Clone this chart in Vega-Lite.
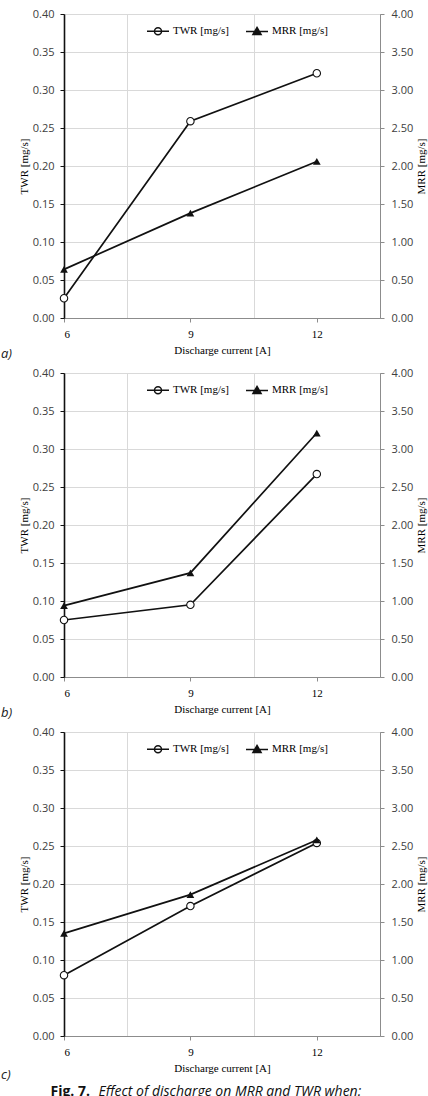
{
  "$schema": "https://vega.github.io/schema/vega-lite/v6.json",
  "background": "white",
  "padding": {"top": 7, "left": 0, "right": 0, "bottom": 0},
  "spacing": 4,
  "resolve": {"scale": {"shape": "independent", "fill": "independent"}, "legend": {"shape": "independent", "fill": "independent"}},
  "datasets": {
    "a": [
      {"I": 6, "TWR": 0.026, "MRR": 0.64},
      {"I": 9, "TWR": 0.259, "MRR": 1.38},
      {"I": 12, "TWR": 0.322, "MRR": 2.06}
    ],
    "b": [
      {"I": 6, "TWR": 0.075, "MRR": 0.94},
      {"I": 9, "TWR": 0.095, "MRR": 1.37},
      {"I": 12, "TWR": 0.267, "MRR": 3.21}
    ],
    "c": [
      {"I": 6, "TWR": 0.080, "MRR": 1.35},
      {"I": 9, "TWR": 0.171, "MRR": 1.86},
      {"I": 12, "TWR": 0.254, "MRR": 2.58}
    ],
    "keys": [
      {"series": "TWR [mg/s]"},
      {"series": "MRR [mg/s]"}
    ]
  },
  "vconcat": [
    {
      "width": 316, "height": 304,
      "title": {"text": "a)", "orient": "bottom", "anchor": "start", "frame": "group", "dx": -63, "offset": -7, "font": "Open Sans", "fontStyle": "italic", "fontWeight": "normal", "fontSize": 13, "color": "#222222"},
      "resolve": {"scale": {"y": "independent"}, "axis": {"x": "independent"}},
      "layer": [
        {
          "data": {"name": "a"},
          "mark": {"type": "line", "color": "#111111", "strokeWidth": 1.7},
          "encoding": {
            "x": {"field": "I", "type": "quantitative", "scale": {"domain": [6, 13.5], "nice": false, "zero": false},
              "axis": {"orient": "bottom", "values": [6, 7.5, 9, 10.5, 12], "labelExpr": "datum.value % 3 === 0 ? datum.label : ''", "title": "Discharge current [A]", "labelFont": "Liberation Serif", "labelColor": "black", "labelPadding": 6, "titlePadding": 5, "grid": true, "gridColor": "#d9d9d9", "gridOpacity": {"condition": {"test": "datum.value % 3 !== 0", "value": 1}, "value": 0}, "tickOpacity": {"condition": {"test": "datum.value % 3 === 0", "value": 1}, "value": 0}, "tickColor": "#8c8c8c", "tickSize": 4, "domainColor": "#8c8c8c"}},
            "y": {"field": "TWR", "type": "quantitative", "scale": {"domain": [0, 0.4], "nice": false},
              "axis": {"orient": "left", "values": [0, 0.05, 0.1, 0.15, 0.2, 0.25, 0.3, 0.35, 0.4], "format": ".2f", "title": "TWR [mg/s]", "titlePadding": 3, "grid": true, "gridColor": "#d9d9d9", "domainColor": "#111111", "domainWidth": 1.6, "tickColor": "#111111", "tickSize": 4, "labelPadding": 6}}
          }
        },
        {
          "data": {"name": "a"},
          "mark": {"type": "point", "shape": "circle", "filled": true, "fill": "white", "stroke": "#111111", "strokeWidth": 1.1, "size": 55, "opacity": 1},
          "encoding": {
            "x": {"field": "I", "type": "quantitative", "axis": null},
            "y": {"field": "TWR", "type": "quantitative", "scale": {"domain": [0, 0.4], "nice": false}, "axis": null}
          }
        },
        {
          "data": {"name": "a"},
          "mark": {"type": "line", "color": "#111111", "strokeWidth": 1.7},
          "encoding": {
            "x": {"field": "I", "type": "quantitative", "axis": null},
            "y": {"field": "MRR", "type": "quantitative", "scale": {"domain": [0, 4], "nice": false},
              "axis": {"orient": "right", "values": [0, 0.5, 1, 1.5, 2, 2.5, 3, 3.5, 4], "format": ".2f", "title": "MRR [mg/s]", "titleAngle": 270, "titleBaseline": "top", "titlePadding": 3, "grid": false, "domainColor": "#8c8c8c", "tickColor": "#8c8c8c", "tickSize": 4, "labelPadding": 7}}
          }
        },
        {
          "data": {"name": "a"},
          "mark": {"type": "point", "shape": "triangle-up", "filled": true, "color": "#111111", "size": 60, "opacity": 1},
          "encoding": {
            "x": {"field": "I", "type": "quantitative", "axis": null},
            "y": {"field": "MRR", "type": "quantitative", "scale": {"domain": [0, 4], "nice": false}, "axis": null}
          }
        },
        {
          "data": {"name": "keys"},
          "mark": {"type": "point", "opacity": 0, "stroke": "#111111", "strokeWidth": 1.3},
          "encoding": {
            "shape": {"field": "series", "type": "nominal", "sort": null,
              "scale": {"domain": ["TWR [mg/s]", "MRR [mg/s]"], "range": ["M-1,0L1,0M0.32,0A0.32,0.32,0,1,1,-0.32,0A0.32,0.32,0,1,1,0.32,0Z", "M-1,0L1,0M0,-0.36L0.37,0.28L-0.37,0.28Z"]},
              "legend": {"orient": "none", "legendX": 82, "legendY": 5, "direction": "horizontal", "title": null, "symbolSize": 484, "symbolOpacity": 1, "labelFont": "Liberation Serif", "labelFontSize": 11, "labelColor": "black", "labelOffset": 3, "columnPadding": 14,
                "encode": {"symbols": {"update": {"stroke": {"value": "#111111"}, "strokeWidth": {"value": 1.3}, "opacity": {"value": 1}}}}}},
            "fill": {"field": "series", "type": "nominal", "sort": null,
              "scale": {"domain": ["TWR [mg/s]", "MRR [mg/s]"], "range": ["white", "#111111"]},
              "legend": {"orient": "none", "legendX": 82, "legendY": 5, "direction": "horizontal", "title": null, "symbolSize": 484, "symbolOpacity": 1, "labelFont": "Liberation Serif", "labelFontSize": 11, "labelColor": "black", "labelOffset": 3, "columnPadding": 14,
                "encode": {"symbols": {"update": {"stroke": {"value": "#111111"}, "strokeWidth": {"value": 1.3}, "opacity": {"value": 1}}}}}}
          }
        }
      ]
    },
    {
      "width": 316, "height": 304,
      "title": {"text": "b)", "orient": "bottom", "anchor": "start", "frame": "group", "dx": -63, "offset": -7, "font": "Open Sans", "fontStyle": "italic", "fontWeight": "normal", "fontSize": 13, "color": "#222222"},
      "resolve": {"scale": {"y": "independent"}, "axis": {"x": "independent"}},
      "layer": [
        {
          "data": {"name": "b"},
          "mark": {"type": "line", "color": "#111111", "strokeWidth": 1.7},
          "encoding": {
            "x": {"field": "I", "type": "quantitative", "scale": {"domain": [6, 13.5], "nice": false, "zero": false},
              "axis": {"orient": "bottom", "values": [6, 7.5, 9, 10.5, 12], "labelExpr": "datum.value % 3 === 0 ? datum.label : ''", "title": "Discharge current [A]", "labelFont": "Liberation Serif", "labelColor": "black", "labelPadding": 6, "titlePadding": 5, "grid": true, "gridColor": "#d9d9d9", "gridOpacity": {"condition": {"test": "datum.value % 3 !== 0", "value": 1}, "value": 0}, "tickOpacity": {"condition": {"test": "datum.value % 3 === 0", "value": 1}, "value": 0}, "tickColor": "#8c8c8c", "tickSize": 4, "domainColor": "#8c8c8c"}},
            "y": {"field": "TWR", "type": "quantitative", "scale": {"domain": [0, 0.4], "nice": false},
              "axis": {"orient": "left", "values": [0, 0.05, 0.1, 0.15, 0.2, 0.25, 0.3, 0.35, 0.4], "format": ".2f", "title": "TWR [mg/s]", "titlePadding": 3, "grid": true, "gridColor": "#d9d9d9", "domainColor": "#111111", "domainWidth": 1.6, "tickColor": "#111111", "tickSize": 4, "labelPadding": 6}}
          }
        },
        {
          "data": {"name": "b"},
          "mark": {"type": "point", "shape": "circle", "filled": true, "fill": "white", "stroke": "#111111", "strokeWidth": 1.1, "size": 55, "opacity": 1},
          "encoding": {
            "x": {"field": "I", "type": "quantitative", "axis": null},
            "y": {"field": "TWR", "type": "quantitative", "scale": {"domain": [0, 0.4], "nice": false}, "axis": null}
          }
        },
        {
          "data": {"name": "b"},
          "mark": {"type": "line", "color": "#111111", "strokeWidth": 1.7},
          "encoding": {
            "x": {"field": "I", "type": "quantitative", "axis": null},
            "y": {"field": "MRR", "type": "quantitative", "scale": {"domain": [0, 4], "nice": false},
              "axis": {"orient": "right", "values": [0, 0.5, 1, 1.5, 2, 2.5, 3, 3.5, 4], "format": ".2f", "title": "MRR [mg/s]", "titleAngle": 270, "titleBaseline": "top", "titlePadding": 3, "grid": false, "domainColor": "#8c8c8c", "tickColor": "#8c8c8c", "tickSize": 4, "labelPadding": 7}}
          }
        },
        {
          "data": {"name": "b"},
          "mark": {"type": "point", "shape": "triangle-up", "filled": true, "color": "#111111", "size": 60, "opacity": 1},
          "encoding": {
            "x": {"field": "I", "type": "quantitative", "axis": null},
            "y": {"field": "MRR", "type": "quantitative", "scale": {"domain": [0, 4], "nice": false}, "axis": null}
          }
        },
        {
          "data": {"name": "keys"},
          "mark": {"type": "point", "opacity": 0, "stroke": "#111111", "strokeWidth": 1.3},
          "encoding": {
            "shape": {"field": "series", "type": "nominal", "sort": null,
              "scale": {"domain": ["TWR [mg/s]", "MRR [mg/s]"], "range": ["M-1,0L1,0M0.32,0A0.32,0.32,0,1,1,-0.32,0A0.32,0.32,0,1,1,0.32,0Z", "M-1,0L1,0M0,-0.36L0.37,0.28L-0.37,0.28Z"]},
              "legend": {"orient": "none", "legendX": 82, "legendY": 5, "direction": "horizontal", "title": null, "symbolSize": 484, "symbolOpacity": 1, "labelFont": "Liberation Serif", "labelFontSize": 11, "labelColor": "black", "labelOffset": 3, "columnPadding": 14,
                "encode": {"symbols": {"update": {"stroke": {"value": "#111111"}, "strokeWidth": {"value": 1.3}, "opacity": {"value": 1}}}}}},
            "fill": {"field": "series", "type": "nominal", "sort": null,
              "scale": {"domain": ["TWR [mg/s]", "MRR [mg/s]"], "range": ["white", "#111111"]},
              "legend": {"orient": "none", "legendX": 82, "legendY": 5, "direction": "horizontal", "title": null, "symbolSize": 484, "symbolOpacity": 1, "labelFont": "Liberation Serif", "labelFontSize": 11, "labelColor": "black", "labelOffset": 3, "columnPadding": 14,
                "encode": {"symbols": {"update": {"stroke": {"value": "#111111"}, "strokeWidth": {"value": 1.3}, "opacity": {"value": 1}}}}}}
          }
        }
      ]
    },
    {
      "width": 316, "height": 304,
      "title": {"text": "c)", "orient": "bottom", "anchor": "start", "frame": "group", "dx": -63, "offset": -29, "font": "Open Sans", "fontStyle": "italic", "fontWeight": "normal", "fontSize": 13, "color": "#222222"},
      "resolve": {"scale": {"y": "independent"}, "axis": {"x": "independent"}},
      "layer": [
        {
          "data": {"name": "c"},
          "mark": {"type": "line", "color": "#111111", "strokeWidth": 1.7},
          "encoding": {
            "x": {"field": "I", "type": "quantitative", "scale": {"domain": [6, 13.5], "nice": false, "zero": false},
              "axis": {"orient": "bottom", "values": [6, 7.5, 9, 10.5, 12], "labelExpr": "datum.value % 3 === 0 ? datum.label : ''", "title": "Discharge current [A]", "labelFont": "Liberation Serif", "labelColor": "black", "labelPadding": 6, "titlePadding": 5, "grid": true, "gridColor": "#d9d9d9", "gridOpacity": {"condition": {"test": "datum.value % 3 !== 0", "value": 1}, "value": 0}, "tickOpacity": {"condition": {"test": "datum.value % 3 === 0", "value": 1}, "value": 0}, "tickColor": "#8c8c8c", "tickSize": 4, "domainColor": "#8c8c8c"}},
            "y": {"field": "TWR", "type": "quantitative", "scale": {"domain": [0, 0.4], "nice": false},
              "axis": {"orient": "left", "values": [0, 0.05, 0.1, 0.15, 0.2, 0.25, 0.3, 0.35, 0.4], "format": ".2f", "title": "TWR [mg/s]", "titlePadding": 3, "grid": true, "gridColor": "#d9d9d9", "domainColor": "#111111", "domainWidth": 1.6, "tickColor": "#111111", "tickSize": 4, "labelPadding": 6}}
          }
        },
        {
          "data": {"name": "c"},
          "mark": {"type": "point", "shape": "circle", "filled": true, "fill": "white", "stroke": "#111111", "strokeWidth": 1.1, "size": 55, "opacity": 1},
          "encoding": {
            "x": {"field": "I", "type": "quantitative", "axis": null},
            "y": {"field": "TWR", "type": "quantitative", "scale": {"domain": [0, 0.4], "nice": false}, "axis": null}
          }
        },
        {
          "data": {"name": "c"},
          "mark": {"type": "line", "color": "#111111", "strokeWidth": 1.7},
          "encoding": {
            "x": {"field": "I", "type": "quantitative",
              "axis": {"orient": "bottom", "title": "Fig. 7.", "labels": false, "ticks": false, "domain": false, "grid": false, "titleFont": "Open Sans", "titleFontWeight": "bold", "titleFontSize": 14, "titleColor": "#111111", "titleAlign": "left", "titleAnchor": "start", "titleBaseline": "alphabetic", "titleX": -14, "titleY": 59}},
            "y": {"field": "MRR", "type": "quantitative", "scale": {"domain": [0, 4], "nice": false},
              "axis": {"orient": "right", "values": [0, 0.5, 1, 1.5, 2, 2.5, 3, 3.5, 4], "format": ".2f", "title": "MRR [mg/s]", "titleAngle": 270, "titleBaseline": "top", "titlePadding": 3, "grid": false, "domainColor": "#8c8c8c", "tickColor": "#8c8c8c", "tickSize": 4, "labelPadding": 7}}
          }
        },
        {
          "data": {"name": "c"},
          "mark": {"type": "point", "shape": "triangle-up", "filled": true, "color": "#111111", "size": 60, "opacity": 1},
          "encoding": {
            "x": {"field": "I", "type": "quantitative",
              "axis": {"orient": "bottom", "title": "Effect of discharge on MRR and TWR when:", "labels": false, "ticks": false, "domain": false, "grid": false, "titleFont": "Open Sans", "titleFontStyle": "italic", "titleFontWeight": "normal", "titleFontSize": 14, "titleColor": "#111111", "titleAlign": "left", "titleAnchor": "start", "titleBaseline": "alphabetic", "titleX": 34, "titleY": 59}},
            "y": {"field": "MRR", "type": "quantitative", "scale": {"domain": [0, 4], "nice": false}, "axis": null}
          }
        },
        {
          "data": {"name": "keys"},
          "mark": {"type": "point", "opacity": 0, "stroke": "#111111", "strokeWidth": 1.3},
          "encoding": {
            "shape": {"field": "series", "type": "nominal", "sort": null,
              "scale": {"domain": ["TWR [mg/s]", "MRR [mg/s]"], "range": ["M-1,0L1,0M0.32,0A0.32,0.32,0,1,1,-0.32,0A0.32,0.32,0,1,1,0.32,0Z", "M-1,0L1,0M0,-0.36L0.37,0.28L-0.37,0.28Z"]},
              "legend": {"orient": "none", "legendX": 82, "legendY": 5, "direction": "horizontal", "title": null, "symbolSize": 484, "symbolOpacity": 1, "labelFont": "Liberation Serif", "labelFontSize": 11, "labelColor": "black", "labelOffset": 3, "columnPadding": 14,
                "encode": {"symbols": {"update": {"stroke": {"value": "#111111"}, "strokeWidth": {"value": 1.3}, "opacity": {"value": 1}}}}}},
            "fill": {"field": "series", "type": "nominal", "sort": null,
              "scale": {"domain": ["TWR [mg/s]", "MRR [mg/s]"], "range": ["white", "#111111"]},
              "legend": {"orient": "none", "legendX": 82, "legendY": 5, "direction": "horizontal", "title": null, "symbolSize": 484, "symbolOpacity": 1, "labelFont": "Liberation Serif", "labelFontSize": 11, "labelColor": "black", "labelOffset": 3, "columnPadding": 14,
                "encode": {"symbols": {"update": {"stroke": {"value": "#111111"}, "strokeWidth": {"value": 1.3}, "opacity": {"value": 1}}}}}}
          }
        }
      ]
    }
  ],
  "config": {
    "view": {"stroke": "#8c8c8c", "strokeWidth": 1},
    "axis": {"labelFont": "Open Sans", "labelFontSize": 11, "labelColor": "#404040", "titleFont": "Liberation Serif", "titleFontSize": 11, "titleFontWeight": "normal", "titleColor": "black"}
  }
}
